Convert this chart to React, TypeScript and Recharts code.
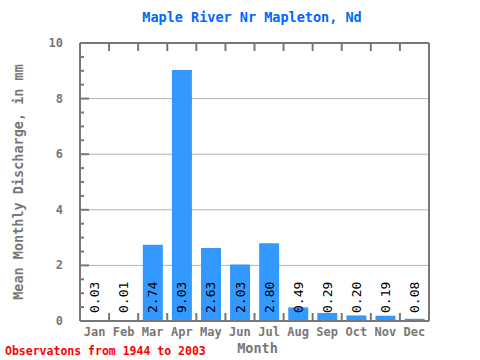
import React from 'react';
import { BarChart, Bar, XAxis, YAxis, CartesianGrid, LabelList } from 'recharts';

const months = ['Jan', 'Feb', 'Mar', 'Apr', 'May', 'Jun', 'Jul', 'Aug', 'Sep', 'Oct', 'Nov', 'Dec'];
const discharge = [0.03, 0.01, 2.74, 9.03, 2.63, 2.03, 2.8, 0.49, 0.29, 0.2, 0.19, 0.08];
const majorTicks = [0, 2, 4, 6, 8, 10];
const minorTicks = [0, 0.5, 1, 1.5, 2, 2.5, 3, 3.5, 4, 4.5, 5, 5.5, 6, 6.5, 7, 7.5, 8, 8.5, 9, 9.5, 10];

const data = months.map((m, i) => ({ month: m, value: discharge[i] }));

const FONT = '"DejaVu Sans Mono", monospace';
const AXIS = '#777777';

const renderValue = (props: any) => {
  const { x, y, width, height, value } = props;
  const cx = Number(x) + Number(width) / 2;
  const by = Number(y) + Number(height) - 8;
  return (
    <text
      x={cx}
      y={by}
      transform={`rotate(-90, ${cx}, ${by})`}
      textAnchor="start"
      dominantBaseline="central"
      fontFamily={FONT}
      fontSize={13}
      fill="#000"
    >
      {Number(value).toFixed(2)}
    </text>
  );
};

// left axis: label for even values, tick line pointing into the plot
const LeftTick = (props: any) => {
  const { x, y, payload } = props;
  const v = payload.value;
  const major = majorTicks.includes(v);
  const edge = x + 17;
  return (
    <g>
      <line x1={edge} x2={edge + (major ? 9 : 4)} y1={y} y2={y} stroke={AXIS} strokeWidth={2} />
      {major && (
        <text x={x} y={y} textAnchor="end" dominantBaseline="central" fontFamily={FONT} fontSize={12} fontWeight="bold" fill={AXIS}>
          {v}
        </text>
      )}
    </g>
  );
};

const RightTick = (props: any) => {
  const { x, y, payload } = props;
  const major = majorTicks.includes(payload.value);
  return <line x1={x} x2={x - (major ? 9 : 4)} y1={y} y2={y} stroke={AXIS} strokeWidth={2} />;
};

const halfBand = (props: any) =>
  props.payload && props.payload.offset ? props.payload.offset : props.width / props.visibleTicksCount / 2;

// top axis: ticks at the month boundaries, pointing down into the plot
const TopTick = (props: any) => {
  const { x, y, index, visibleTicksCount } = props;
  const h = halfBand(props);
  return (
    <g>
      <line x1={x - h} x2={x - h} y1={y} y2={y + 8} stroke={AXIS} strokeWidth={2} />
      {index === visibleTicksCount - 1 && <line x1={x + h} x2={x + h} y1={y} y2={y + 8} stroke={AXIS} strokeWidth={2} />}
    </g>
  );
};

// bottom axis: month name plus boundary tick pointing up into the plot
const MARGIN = 6.5;
const BottomTick = (props: any) => {
  const { x, y, index, visibleTicksCount, payload } = props;
  const h = halfBand(props);
  const base = y - MARGIN;
  return (
    <g>
      <line x1={x - h} x2={x - h} y1={base} y2={base - 8} stroke={AXIS} strokeWidth={2} />
      {index === visibleTicksCount - 1 && <line x1={x + h} x2={x + h} y1={base} y2={base - 8} stroke={AXIS} strokeWidth={2} />}
      <text x={x} y={y} dy="0.71em" textAnchor="middle" fontFamily={FONT} fontSize={12} fontWeight="bold" fill={AXIS}>
        {payload.value}
      </text>
    </g>
  );
};

export default function App() {
  return (
    <div style={{ position: 'absolute', left: 0, top: 0, width: 480, height: 360, background: '#fff' }}>
      <div
        style={{
          position: 'absolute', left: 252, top: 9, transform: 'translateX(-50%)', whiteSpace: 'nowrap',
          fontFamily: FONT, fontWeight: 'bold', fontSize: 13.5, color: '#0066ff',
        }}
      >
        Maple River Nr Mapleton, Nd
      </div>
      <BarChart width={480} height={360} data={data} margin={{ top: 42, right: 50, bottom: 0, left: 0 }} barCategoryGap="16%">
        <CartesianGrid xAxisId="cat" yAxisId="main" vertical={false} horizontalValues={majorTicks} stroke="#b4b4b4" />
        <XAxis xAxisId="cat" dataKey="month" height={39} tickSize={0} tickMargin={MARGIN} interval={0}
          axisLine={{ stroke: AXIS, strokeWidth: 2 }} tickLine={false} tick={<BottomTick />}
          label={{
            content: (p: any) => (
              <text x={p.viewBox.x + p.viewBox.width / 2 + 3} y={p.viewBox.y + 27} textAnchor="middle" dominantBaseline="central"
                fontFamily={FONT} fontSize={13.5} fontWeight="bold" fill={AXIS}>Month</text>
            ),
          }}
        />
        <XAxis xAxisId="top" dataKey="month" orientation="top" height={1} tickSize={0} tickMargin={0} interval={0}
          axisLine={{ stroke: AXIS, strokeWidth: 2 }} tickLine={false} tick={<TopTick />} />
        <YAxis yAxisId="main" width={80} domain={[0, 10]} ticks={minorTicks} interval={0} tickSize={0} tickMargin={17}
          axisLine={{ stroke: AXIS, strokeWidth: 2 }} tickLine={false} tick={<LeftTick />}
          label={{
            content: (p: any) => {
              const lx = p.viewBox.x + 18;
              const ly = p.viewBox.y + p.viewBox.height / 2;
              return (
                <text x={lx} y={ly} transform={`rotate(-90, ${lx}, ${ly})`} textAnchor="middle" dominantBaseline="central"
                  fontFamily={FONT} fontSize={13.5} fontWeight="bold" fill={AXIS}>Mean Monthly Discharge, in mm</text>
              );
            },
          }}
        />
        <YAxis yAxisId="right" orientation="right" width={1} domain={[0, 10]} ticks={minorTicks} interval={0} tickSize={0} tickMargin={0}
          axisLine={{ stroke: AXIS, strokeWidth: 2 }} tickLine={false} tick={<RightTick />} />
        <Bar xAxisId="cat" yAxisId="main" dataKey="value" fill="#3399ff" isAnimationActive={false}>
          <LabelList dataKey="value" content={renderValue} />
        </Bar>
      </BarChart>
      <div
        style={{
          position: 'absolute', left: 5, top: 344, whiteSpace: 'nowrap',
          fontFamily: FONT, fontWeight: 'bold', fontSize: 11.5, color: '#ff0000',
        }}
      >
        Observatons from 1944 to 2003
      </div>
    </div>
  );
}
